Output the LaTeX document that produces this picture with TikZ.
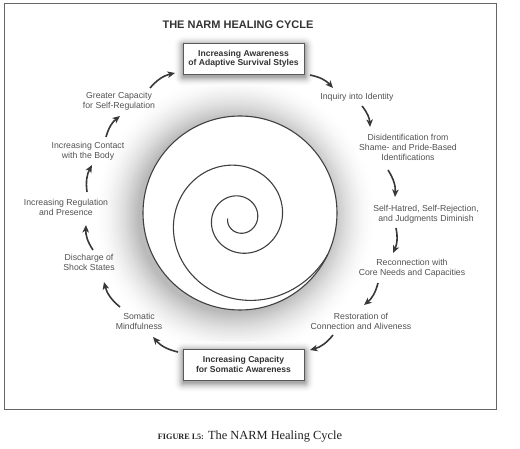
\documentclass[tikz,border=0pt]{standalone}
\usepackage{fontspec}
\setmainfont{Liberation Serif}
\setsansfont{Liberation Sans}
\usetikzlibrary{arrows.meta}
\begin{document}
\begin{tikzpicture}[x=1pt,y=1pt,
  lbl/.style={font=\sffamily\fontsize{8.7}{10}\selectfont, text=black!68, align=center, inner sep=2pt},
  keybox/.style={draw=black!65, line width=0.8pt, fill=white, minimum width=121pt, minimum height=31pt, align=center, inner sep=2pt,
    font=\sffamily\bfseries\fontsize{8.6}{9.4}\selectfont, text=black!80},
  cyc/.style={draw=black!78, line width=1.6pt, -{Stealth[length=7.5pt,width=6.5pt,inset=2pt]}, bend left=18},
  spiralline/.style={draw=black!75, line width=1.1pt},
]
\useasboundingbox (0,0) rectangle (520,-449);
\draw[black!60, line width=0.9pt] (4,-3) rectangle (496,-409);
% halo behind the spiral (soft shadow built from concentric discs)
\foreach \r in {142,141,...,97}{
  \pgfmathsetmacro\g{27*((142-\r)/45)^1.8}
  \fill[black!\g] (235,-216) circle (\r);
}
\fill[white] (240,-213) circle (97);
\draw[spiralline] (240,-213) circle (97);
\draw[spiralline] plot[domain=180:1058, samples=260, smooth, variable=\t]
  ({239.5+11.8*exp(0.002385*(\t-180))*cos(\t)}, {-218.5+11.8*exp(0.002385*(\t-180))*sin(\t)});
% soft shadows behind the two key boxes
\foreach \cy in {-58.5,-364.5}{
  \foreach \s in {10,9,...,1}{
    \pgfmathsetmacro\g{34*((11-\s)/10)^2}
    \fill[black!\g, rounded corners=\s] (243.5-60.5-\s+0.5,\cy-15.5-\s-2.5) rectangle (243.5+60.5+\s+0.5,\cy+15.5+\s-2.5);
  }
}
% title
\node[font=\sffamily\bfseries\fontsize{11}{13}\selectfont, text=black!80] (title) at (238,-25) {THE NARM HEALING CYCLE};
% key boxes
\node[keybox] (top) at (243.5,-58.5) {Increasing Awareness\\of Adaptive Survival Styles};
\node[keybox] (bot) at (243.5,-364.5) {Increasing Capacity\\for Somatic Awareness};
% labels
\node[lbl] (inq) at (357,-97) {Inquiry into Identity};
\node[lbl] (dis) at (408,-147) {Disidentification from\\Shame- and Pride-Based\\Identifications};
\node[lbl] (self) at (426,-214.5) {Self-Hatred, Self-Rejection,\\and Judgments Diminish};
\node[lbl] (rec) at (412,-268) {Reconnection with\\Core Needs and Capacities};
\node[lbl] (res) at (361,-321) {Restoration of\\Connection and Aliveness};
\node[lbl] (som) at (139,-321) {Somatic\\Mindfulness};
\node[lbl] (dsc) at (89,-262.5) {Discharge of\\Shock States};
\node[lbl] (reg) at (66,-207) {Increasing Regulation\\and Presence};
\node[lbl] (con) at (88,-151) {Increasing Contact\\with the Body};
\node[lbl] (grc) at (119,-101.7) {Greater Capacity\\for Self-Regulation};
% cycle arrows
\draw[cyc] ([shift={(66.5,-16.5)}]top.center) to ([shift={(-24,9)}]inq.center);
\draw[cyc] ([shift={(5,-9)}]inq.center) to ([shift={(-38,20)}]dis.center);
\draw[cyc] ([shift={(-20,-23)}]dis.center) to ([shift={(-31,17.5)}]self.center);
\draw[cyc] ([shift={(-30,-13.5)}]self.center) to ([shift={(-19,15)}]rec.center);
\draw[cyc] ([shift={(-34,-15)}]rec.center) to ([shift={(3,16)}]res.center);
\draw[cyc] ([shift={(-28,-14)}]res.center) to ([shift={(66.5,14.5)}]bot.center);
\draw[cyc] ([shift={(-65.5,12.5)}]bot.center) to ([shift={(14,-16)}]som.center);
\draw[cyc] ([shift={(-19,14)}]som.center) to ([shift={(15,-19.5)}]dsc.center);
\draw[cyc] ([shift={(4,12.5)}]dsc.center) to ([shift={(20,-18)}]reg.center);
\draw[cyc] ([shift={(21,15)}]reg.center) to ([shift={(4,-14)}]con.center);
\draw[cyc] ([shift={(18,14)}]con.center) to ([shift={(1,-14.3)}]grc.center);
\draw[cyc] ([shift={(31,13.7)}]grc.center) to ([shift={(-68.5,-14.5)}]top.center);
% caption
\node[font=\fontsize{12.4}{14}\selectfont, text=black!88] (caption) at (250,-437)
  {{\fontsize{8.2}{10}\selectfont\bfseries FIGURE I.5:} The NARM Healing Cycle};
\end{tikzpicture}
\end{document}
